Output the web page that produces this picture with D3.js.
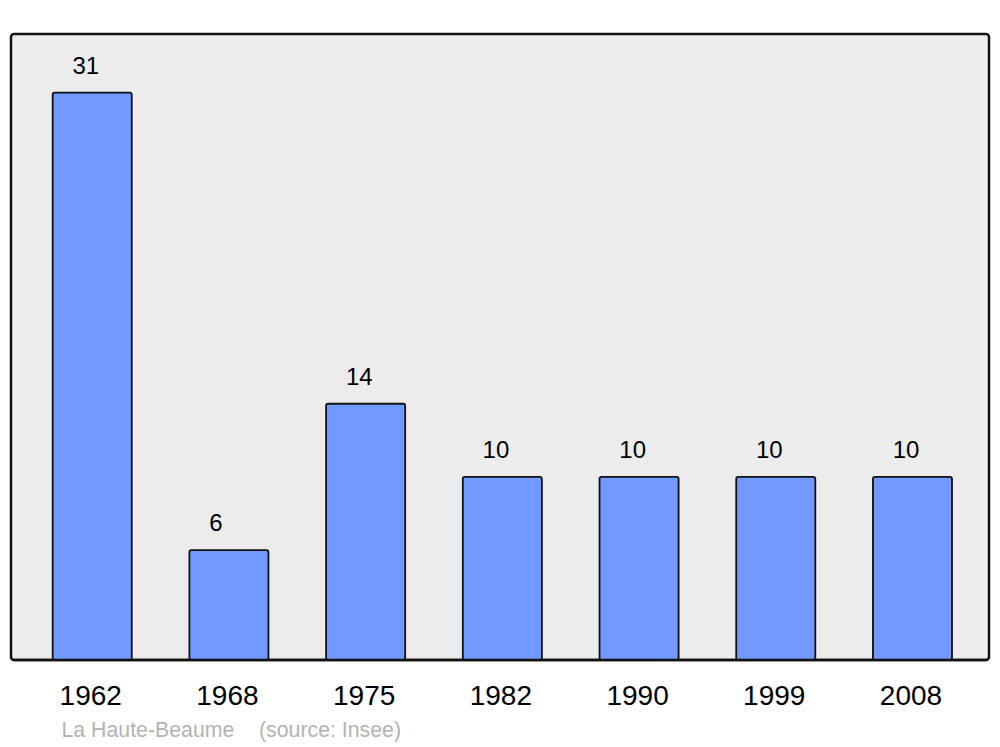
<!DOCTYPE html>
<html>
<head>
<meta charset="utf-8">
<script src="https://cdn.jsdelivr.net/npm/d3@7"></script>
<style>
  html, body { margin: 0; padding: 0; background: #fff; }
  svg { display: block; font-family: "Liberation Sans", Arial, sans-serif; }
</style>
</head>
<body>
<svg id="chart" width="1000" height="747"></svg>
<script>
const years = ["1962", "1968", "1975", "1982", "1990", "1999", "2008"];
const population = [31, 6, 14, 10, 10, 10, 10];
const yMax = 34.2;
const place = "La Haute-Beaume";
const source = "(source: Insee)";

const svg = d3.select("#chart");
const plot = { left: 11, right: 989, top: 34, bottom: 660 };

svg.append("rect")
  .attr("x", plot.left).attr("y", plot.top)
  .attr("width", plot.right - plot.left).attr("height", plot.bottom - plot.top)
  .attr("rx", 3).attr("ry", 3)
  .attr("fill", "#ececec").attr("stroke", "#111").attr("stroke-width", 2.5);

const x = d3.scaleBand().domain(years).range([52.7, 952]).paddingInner(0.4217).paddingOuter(0);
const y = d3.scaleLinear().domain([0, yMax]).range([plot.bottom, plot.top]);

const data = years.map((yr, i) => ({ yr, v: population[i] }));

svg.append("g").selectAll("rect").data(data).join("rect")
  .attr("x", d => x(d.yr)).attr("y", d => y(d.v))
  .attr("width", x.bandwidth()).attr("height", d => y(0) - y(d.v))
  .attr("rx", 2).attr("ry", 2)
  .attr("fill", "#7299ff").attr("stroke", "#111").attr("stroke-width", 1.8);

svg.append("g").selectAll("text").data(data).join("text")
  .attr("x", d => x(d.yr) + x.bandwidth() / 4)
  .attr("y", d => y(d.v) - 19)
  .attr("font-size", 24).attr("fill", "#000")
  .text(d => d.v);

// redraw the bottom border over bars
svg.append("line")
  .attr("x1", plot.left + 2).attr("x2", plot.right - 2)
  .attr("y1", plot.bottom).attr("y2", plot.bottom)
  .attr("stroke", "#111").attr("stroke-width", 2.5);

const xAxis = d3.axisBottom(x).tickSize(0).tickPadding(0);
const gx = svg.append("g").attr("transform", `translate(-1.5,${plot.bottom})`).call(xAxis);
gx.select(".domain").remove();
gx.selectAll("text")
  .attr("dy", null).attr("y", 45)
  .attr("font-size", 28).attr("font-family", "Liberation Sans, Arial, sans-serif")
  .attr("fill", "#000");

svg.append("text").attr("x", 61.5).attr("y", 737)
  .attr("font-size", 21.3).attr("fill", "#b3b3b3").text(place);
svg.append("text").attr("x", 259).attr("y", 737)
  .attr("font-size", 21.3).attr("fill", "#b3b3b3").text(source);
</script>
</body>
</html>
